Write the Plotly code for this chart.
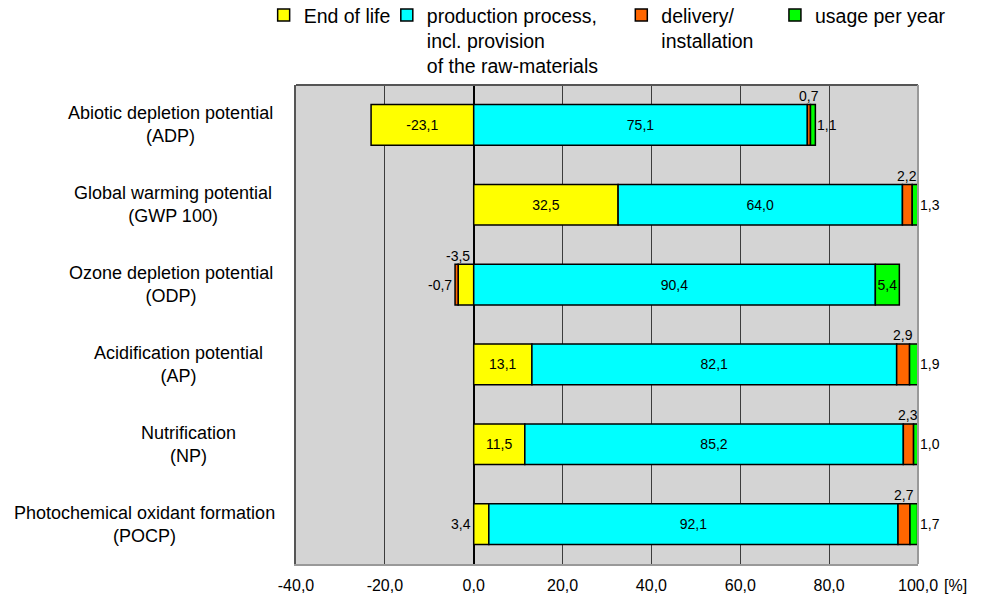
import plotly.graph_objects as go

categories = ["ADP", "GWP", "ODP", "AP", "NP", "POCP"]
category_labels = [
    "Abiotic depletion potential<br>(ADP)",
    "Global warming potential<br>(GWP 100)",
    "Ozone depletion potential<br>(ODP)",
    "Acidification potential<br>(AP)",
    "Nutrification<br>(NP)",
    "Photochemical oxidant formation<br>(POCP)",
]
legend_names = [
    "End of life",
    "production process,<br>incl. provision<br>of the raw-materials",
    "delivery/<br>installation",
    "usage per year",
]
end_of_life = [-23.1, 32.5, -3.5, 13.1, 11.5, 3.4]
production = [75.1, 64.0, 90.4, 82.1, 85.2, 92.1]
delivery = [0.7, 2.2, -0.7, 2.9, 2.3, 2.7]
usage = [1.1, 1.3, 5.4, 1.9, 1.0, 1.7]
tick_values = [-40, -20, 0, 20, 40, 60, 80, 100]
tick_labels = ["-40,0", "-20,0", "0,0", "20,0", "40,0", "60,0", "80,0", "100,0"]

# style / layout
colors = ["#ffff00", "#00ffff", "#ff6600", "#00ff00"]
label_center_px = [170, 173, 171, 178, 188.5, 144]  # horizontal centre of category label blocks
legend_x = [-0.052, 0.146, 0.523, 0.770]
outside_place = {
    (0, "POCP"): "left",
    (0, "ODP"): "above-end",
    (2, "ODP"): "left",
}
FONT = "Liberation Sans, Arial, sans-serif"
PLOT_L, PLOT_W = 296, 622


def fmt(v):
    return f"{v:.1f}".replace(".", ",")


all_series = [end_of_life, production, delivery, usage]

fig = go.Figure()
for i, (vals, name) in enumerate(zip(all_series, legend_names)):
    texts = [fmt(v) if abs(v) >= 5 else "" for v in vals]
    fig.add_trace(go.Bar(
        y=categories, x=vals, orientation="h", name=name,
        marker=dict(color=colors[i], line=dict(color="black", width=1.5)),
        text=texts, textposition="inside", insidetextanchor="middle",
        textangle=0, constraintext="none",
        textfont=dict(family=FONT, size=14, color="black"),
        legend="legend" if i == 0 else f"legend{i+1}",
        showlegend=True,
    ))

annotations = []
# outside value labels, positions derived from stacking
for ci, cat in enumerate(categories):
    pos, neg = 0.0, 0.0
    ext = []
    for si, vals in enumerate(all_series):
        v = vals[ci]
        if v >= 0:
            s, e = pos, pos + v
            pos = e
        else:
            s, e = neg, neg + v
            neg = e
        ext.append((s, e))
    for si, vals in enumerate(all_series):
        v = vals[ci]
        if abs(v) >= 5:
            continue
        s, e = ext[si]
        place = outside_place.get((si, cat))
        if place is None:
            place = "above" if si == 2 else ("right" if si == 3 else "left")
        a = dict(y=cat, xref="x", yref="y", text=fmt(v), showarrow=False,
                 font=dict(family=FONT, size=14, color="black"))
        if place == "above":
            a.update(x=(s + e) / 2, xanchor="center", yanchor="bottom", yshift=19)
        elif place == "above-end":
            a.update(x=e, xanchor="center", yanchor="bottom", yshift=19)
        elif place == "right":
            a.update(x=pos, xanchor="left", yanchor="middle", xshift=0)
        else:
            a.update(x=neg, xanchor="right", yanchor="middle", xshift=-1)
        annotations.append(a)

# category labels
for cat, lab, cx in zip(categories, category_labels, label_center_px):
    annotations.append(dict(
        x=(cx - PLOT_L) / PLOT_W, y=cat, xref="paper", yref="y", text=lab,
        showarrow=False, xanchor="center", yanchor="middle", align="center",
        font=dict(family=FONT, size=18, color="black"),
    ))

annotations.append(dict(
    x=1.06, y=-0.044, xref="paper", yref="paper", text="[%]", showarrow=False,
    xanchor="center", yanchor="middle", font=dict(family=FONT, size=16, color="black"),
))

legend_common = dict(
    orientation="v", xanchor="left", yanchor="top", y=1.186,
    bgcolor="rgba(0,0,0,0)", borderwidth=0, valign="top",
    font=dict(family=FONT, size=19.5, color="black"),
    itemclick=False, itemdoubleclick=False,
)

layout_legends = {}
for i, lx in enumerate(legend_x):
    key = "legend" if i == 0 else f"legend{i+1}"
    layout_legends[key] = dict(legend_common, x=lx)

fig.update_layout(
    width=982, height=598,
    margin=dict(l=PLOT_L, r=982 - PLOT_L - PLOT_W, t=85, b=34, autoexpand=False),
    paper_bgcolor="white", plot_bgcolor="#d4d4d4",
    barmode="relative", bargap=0.49,
    separators=",.",
    font=dict(family=FONT, color="black"),
    xaxis=dict(
        range=[-40, 100], tickvals=tick_values, ticktext=tick_labels,
        showgrid=True, gridcolor="#3c3c3c", gridwidth=1,
        zeroline=True, zerolinecolor="black", zerolinewidth=1.5,
        showline=True, linecolor="#999999", linewidth=2,
        ticks="outside", ticklen=6, tickcolor="rgba(0,0,0,0)",
        tickfont=dict(family=FONT, size=16, color="black"),
        fixedrange=True,
    ),
    yaxis=dict(
        categoryorder="array", categoryarray=categories, autorange="reversed",
        showticklabels=False, showgrid=False, zeroline=False,
        showline=True, linecolor="#555555", linewidth=2,
        fixedrange=True,
    ),
    annotations=annotations,
    shapes=[
        dict(type="line", xref="paper", yref="paper", x0=0, x1=1, y0=1, y1=1,
             line=dict(color="#555555", width=2)),
        dict(type="line", xref="paper", yref="paper", x0=1, x1=1, y0=0, y1=1,
             line=dict(color="#999999", width=2)),
    ],
    **layout_legends,
)

fig.write_html(
    "out.html",
    config={"displayModeBar": False},
    post_script="document.body.style.margin='0px';document.body.style.padding='0px';",
)
